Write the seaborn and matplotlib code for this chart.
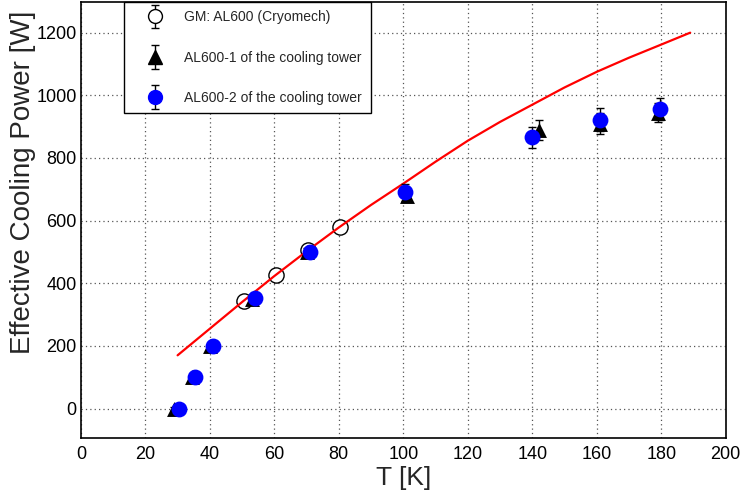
#!/usr/bin/env python3
"""
AL600 냉동기 유효 냉각 능력 vs 온도 (ROOT 스타일 재현)
"""

import numpy as np
import pandas as pd
import matplotlib
matplotlib.use("Agg")
import matplotlib.pyplot as plt
from matplotlib.ticker import MultipleLocator
from matplotlib.legend_handler import HandlerErrorbar
from matplotlib.container import ErrorbarContainer
import seaborn as sns

# [데이터]
# GM: AL600 (Cryomech) 카탈로그 값
gm_T = [50.5, 60.5, 70.3, 80.3]
gm_P = [342, 427, 505, 580]

# AL600-1 (냉각 타워)
al1_T = [29.0, 34.5, 40.0, 53.0, 70.0, 101.0, 142.0, 161.0, 179.0]
al1_P = [0, 100, 200, 350, 500, 680, 890, 910, 945]
al1_err = [5, 5, 5, 10, 12, 20, 32, 35, 30]

# AL600-2 (냉각 타워)
al2_T = [30.5, 35.5, 41.0, 54.0, 71.0, 100.5, 140.0, 161.0, 179.5]
al2_P = [0, 100, 200, 352, 500, 690, 866, 922, 957]
al2_err = [5, 5, 5, 10, 12, 27, 34, 37, 35]

# 피팅 곡선 (빨간 선)
fit_T = [30, 40, 50, 60, 70, 80, 90, 100, 110, 120, 130, 140, 150, 160, 170, 180, 189]
fit_P = [170, 255, 340, 423, 502, 578, 650, 718, 788, 855, 915, 970, 1025, 1075, 1120, 1162, 1200]

x_ticks = list(range(0, 201, 20))
y_ticks = list(range(0, 1201, 200))

labels = ["GM: AL600 (Cryomech)",
          "AL600-1 of the cooling tower",
          "AL600-2 of the cooling tower"]

sns.set_theme(style="white")
plt.rcParams["font.family"] = ["Liberation Sans", "DejaVu Sans"]

fig = plt.figure(figsize=(7.42, 4.94), dpi=100)
ax = fig.add_axes([0.109, 0.114, 0.869, 0.882])

fit_df = pd.DataFrame({"T": fit_T, "P": fit_P})
gm_df = pd.DataFrame({"T": gm_T, "P": gm_P})
al1_df = pd.DataFrame({"T": al1_T, "P": al1_P})
al2_df = pd.DataFrame({"T": al2_T, "P": al2_P})

# 오차 막대 (검정)
ax.errorbar(al1_T, al1_P, yerr=al1_err, fmt="none", ecolor="black",
            elinewidth=1, capsize=3, capthick=1, zorder=3)
ax.errorbar(al2_T, al2_P, yerr=al2_err, fmt="none", ecolor="black",
            elinewidth=1, capsize=3, capthick=1, zorder=3)

sns.scatterplot(data=gm_df, x="T", y="P", ax=ax, marker="o", s=120,
                facecolor="white", edgecolor="black", linewidth=1, zorder=2)
sns.lineplot(data=fit_df, x="T", y="P", ax=ax, color="red", lw=1.6,
             zorder=2.5, sort=False)
sns.scatterplot(data=al1_df, x="T", y="P", ax=ax, marker="^", s=115,
                color="black", edgecolor="black", linewidth=0, zorder=4)
sns.scatterplot(data=al2_df, x="T", y="P", ax=ax, marker="o", s=130,
                color="blue", edgecolor="blue", linewidth=0, zorder=5)

ax.set_xlim(0, 200)
ax.set_ylim(-93, 1298)
ax.set_xticks(x_ticks)
ax.set_yticks(y_ticks)
ax.xaxis.set_minor_locator(MultipleLocator(4))
ax.yaxis.set_minor_locator(MultipleLocator(50))
ax.tick_params(axis="both", which="both", direction="in", labelsize=13,
               top=False, right=False, colors="black")
ax.tick_params(axis="x", which="major", length=9.4, width=1, pad=6)
ax.tick_params(axis="x", which="minor", length=4.7, width=1)
ax.tick_params(axis="y", which="major", length=8.6, width=1, pad=3)
ax.tick_params(axis="y", which="minor", length=4.3, width=1)
for sp in ax.spines.values():
    sp.set_color("black")
    sp.set_linewidth(1.2)

ax.grid(True, which="major", color="#555555", lw=0.9, linestyle=(0, (1, 2.5)))
ax.set_axisbelow(True)

ax.set_xlabel("T [K]", fontsize=19, labelpad=2)
ax.set_ylabel("Effective Cooling Power [W]", fontsize=20)
# ROOT처럼 y축 제목은 위쪽으로 치우쳐 있음
ax.yaxis.set_label_coords(-0.07, 0.585)

# 범례용 대리 핸들 (NaN 데이터)
h_gm = ax.errorbar([np.nan], [np.nan], yerr=[1], fmt="o", ms=10, mfc="white",
                   mec="black", mew=1, ecolor="black", elinewidth=1, capsize=3)
h_1 = ax.errorbar([np.nan], [np.nan], yerr=[1], fmt="^", ms=10, mfc="black",
                  mec="black", ecolor="black", elinewidth=1, capsize=3)
h_2 = ax.errorbar([np.nan], [np.nan], yerr=[1], fmt="o", ms=10, mfc="blue",
                  mec="blue", ecolor="black", elinewidth=1, capsize=3)
leg = ax.legend([h_gm, h_1, h_2], labels, loc="upper left",
                bbox_to_anchor=(0.067, 1.0), borderaxespad=0, fontsize=10,
                frameon=True, fancybox=False, framealpha=1, edgecolor="black",
                labelspacing=1.9, borderpad=0.6, handlelength=3.3,
                handletextpad=0.45,
                handler_map={ErrorbarContainer: HandlerErrorbar(yerr_size=0.86)})
leg.get_frame().set_linewidth(1)

fig.savefig("out.png", dpi=100)
